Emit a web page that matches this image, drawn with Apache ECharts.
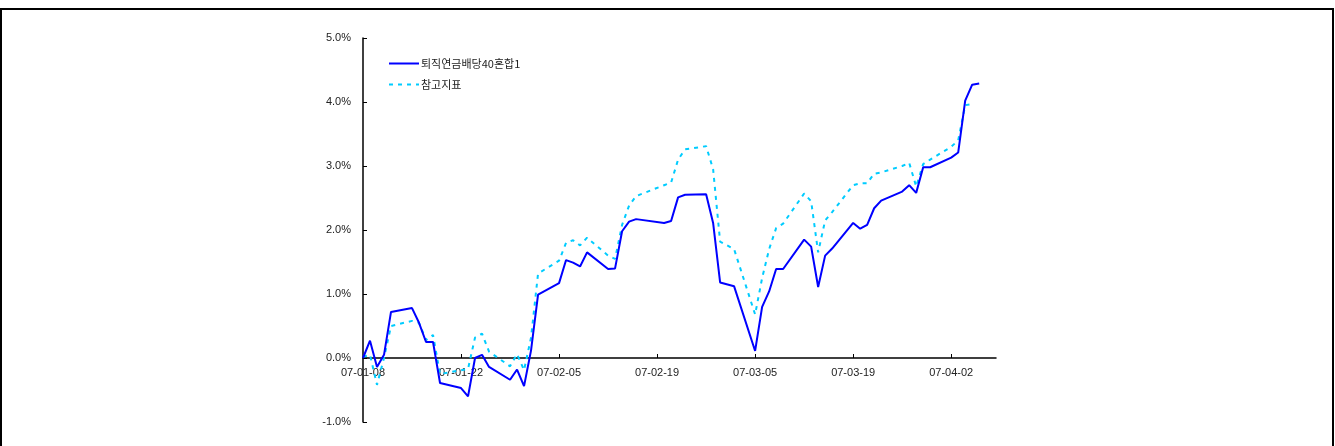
<!DOCTYPE html>
<html>
<head>
<meta charset="utf-8">
<script src="https://cdn.jsdelivr.net/npm/echarts@6/dist/echarts.min.js"></script>
<style>
  html, body { margin: 0; padding: 0; background: #fff; }
  #chart { width: 1335px; height: 446px; }
</style>
</head>
<body>
<div id="chart"></div>
<script>
// ---- data ----
const seriesNames = ['퇴직연금배당40혼합1', '참고지표'];
const dates = [
  '2007-01-08','2007-01-09','2007-01-10','2007-01-11','2007-01-12',
  '2007-01-15','2007-01-16','2007-01-17','2007-01-18','2007-01-19',
  '2007-01-22','2007-01-23','2007-01-24','2007-01-25','2007-01-26',
  '2007-01-29','2007-01-30','2007-01-31','2007-02-01','2007-02-02',
  '2007-02-05','2007-02-06','2007-02-07','2007-02-08','2007-02-09',
  '2007-02-12','2007-02-13','2007-02-14','2007-02-15','2007-02-16',
  '2007-02-20','2007-02-21','2007-02-22','2007-02-23',
  '2007-02-26','2007-02-27','2007-02-28','2007-03-02',
  '2007-03-05','2007-03-06','2007-03-07','2007-03-08','2007-03-09',
  '2007-03-12','2007-03-13','2007-03-14','2007-03-15','2007-03-16',
  '2007-03-19','2007-03-20','2007-03-21','2007-03-22','2007-03-23',
  '2007-03-26','2007-03-27','2007-03-28','2007-03-29','2007-03-30',
  '2007-04-02','2007-04-03','2007-04-04','2007-04-05','2007-04-06'
];
const fundValues = [
  0.00, 0.27, -0.14, 0.05, 0.72,
  0.78, 0.55, 0.25, 0.25, -0.39,
  -0.47, -0.60, 0.00, 0.05, -0.14,
  -0.34, -0.18, -0.44, 0.12, 0.99,
  1.17, 1.53, 1.49, 1.43, 1.65,
  1.39, 1.40, 1.98, 2.13, 2.17,
  2.11, 2.14, 2.51, 2.55,
  2.56, 2.11, 1.18, 1.12,
  0.11, 0.80, 1.04, 1.39, 1.39,
  1.85, 1.74, 1.11, 1.60, 1.71,
  2.11, 2.02, 2.08, 2.34, 2.46,
  2.60, 2.70, 2.58, 2.98, 2.98,
  3.13, 3.21, 4.02, 4.27, 4.29
];
const benchValues = [
  0.02, 0.05, -0.42, 0.00, 0.50,
  0.58, 0.55, 0.28, 0.36, -0.25,
  -0.19, -0.17, 0.32, 0.38, 0.10,
  -0.13, 0.06, -0.19, 0.32, 1.32,
  1.52, 1.80, 1.84, 1.76, 1.88,
  1.60, 1.55, 2.08, 2.38, 2.53,
  2.70, 2.74, 3.10, 3.26,
  3.31, 2.95, 1.82, 1.70,
  0.68, 1.25, 1.70, 2.03, 2.10,
  2.57, 2.45, 1.65, 2.15, 2.28,
  2.70, 2.73, 2.73, 2.88, 2.90,
  3.00, 3.05, 2.68, 3.03, 3.10,
  3.30, 3.40, 3.95, 3.97, null
];
const tickLabels = ['07-01-08','07-01-22','07-02-05','07-02-19','07-03-05','07-03-19','07-04-02'];

// ---- helpers ----
const DAY = 86400000;
const base = Date.UTC(2007, 0, 8);
function dayOffset(s) {
  const p = s.split('-').map(Number);
  return Math.round((Date.UTC(p[0], p[1] - 1, p[2]) - base) / DAY);
}
function shortLabelToOffset(s) {
  const p = s.split('-').map(Number);
  return Math.round((Date.UTC(2000 + p[0], p[1] - 1, p[2]) - base) / DAY);
}
const tickOffsets = tickLabels.map(shortLabelToOffset);
const labelByOffset = {};
tickLabels.forEach((l, i) => { labelByOffset[tickOffsets[i]] = l; });

const fundData = dates.map((d, i) => [dayOffset(d), fundValues[i]]);
const benchData = dates.map((d, i) => [dayOffset(d), benchValues[i] === null ? '-' : benchValues[i]]);

const chart = echarts.init(document.getElementById('chart'), null, { renderer: 'canvas' });
const fontFam = 'Liberation Sans, Arial, "Noto Sans CJK KR", sans-serif';
const yMin = -1, yMax = 5, gridTop = 38, gridBottom = 24, chartH = 446;
const unitPx = (chartH - gridTop - gridBottom) / (yMax - yMin);
chart.setOption({
  animation: false,
  backgroundColor: '#ffffff',
  grid: { left: 363, right: 339, top: gridTop, bottom: gridBottom, containLabel: false },
  legend: {
    orient: 'vertical',
    left: 383,
    top: 53,
    itemWidth: 30,
    itemHeight: 12,
    itemGap: 10,
    itemStyle: { opacity: 0 },
    textStyle: { fontSize: 11, color: '#222', fontFamily: '"Noto Sans CJK KR", sans-serif', padding: [0, 0, 0, -3] },
    data: seriesNames
  },
  xAxis: {
    type: 'value',
    min: 0,
    max: 90.4,
    interval: 14,
    offset: -unitPx * (0 - yMin),
    axisLine: { onZero: false, lineStyle: { color: '#000', width: 1.5 } },
    axisTick: { show: true, inside: true, length: 4, lineStyle: { color: '#000' }, customValues: tickOffsets.slice(1) },
    axisLabel: {
      customValues: tickOffsets,
      formatter: v => labelByOffset[Math.round(v)] || '',
      fontSize: 11, color: '#222', fontFamily: fontFam, margin: 9
    },
    splitLine: { show: false }
  },
  yAxis: {
    type: 'value',
    min: yMin,
    max: yMax,
    interval: 1,
    axisLine: { show: true, lineStyle: { color: '#000', width: 1.5 } },
    axisTick: { show: true, inside: true, length: 4, lineStyle: { color: '#000' } },
    axisLabel: {
      formatter: v => v.toFixed(1) + '%',
      fontSize: 11, color: '#222', fontFamily: fontFam, margin: 12
    },
    splitLine: { show: false }
  },
  series: [
    {
      name: seriesNames[0],
      type: 'line',
      data: fundData,
      showSymbol: false,
      symbol: 'none',
      lineStyle: { color: '#0000ff', width: 2 },
      itemStyle: { color: '#0000ff' },
      z: 3
    },
    {
      name: seriesNames[1],
      type: 'line',
      data: benchData,
      showSymbol: false,
      symbol: 'none',
      lineStyle: { color: '#00ccff', width: 2, type: [4, 5] },
      itemStyle: { color: '#00ccff' },
      z: 2
    }
  ],
  graphic: [
    {
      type: 'rect',
      shape: { x: 1, y: 9, width: 1332, height: 470 },
      style: { fill: null, stroke: '#000', lineWidth: 2 },
      silent: true
    }
  ]
});
</script>
</body>
</html>
